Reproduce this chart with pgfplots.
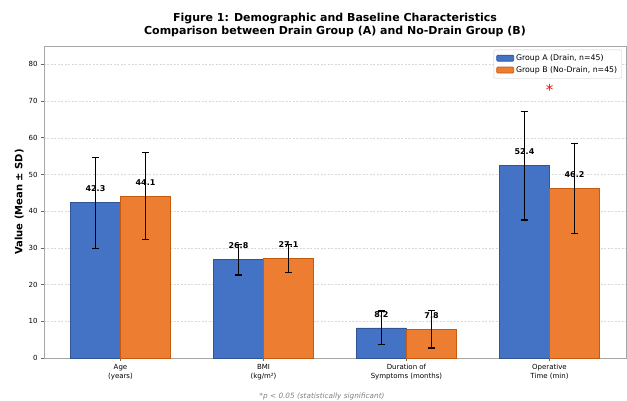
\documentclass[border=0pt]{standalone}
\usepackage{pgfplots}
\pgfplotsset{compat=1.18}
\usepackage{fontspec}
\setmainfont{DejaVu Sans}
\definecolor{grpA}{HTML}{4472C4}
\definecolor{grpAedge}{HTML}{2F5597}
\definecolor{grpB}{HTML}{ED7D31}
\definecolor{grpBedge}{HTML}{C55A11}

% x = category position shifted by half a bar, y = mean, e = SD
\pgfplotstableread{
x y e
-0.175 42.3 12.4
0.825 26.8 4.2
1.825 8.2 4.6
2.825 52.4 14.8
}\groupA
\pgfplotstableread{
x y e
0.175 44.1 11.8
1.175 27.1 3.9
2.175 7.8 5.1
3.175 46.2 12.3
}\groupB

\begin{document}
\begin{tikzpicture}
\path[use as bounding box] (0,0) rectangle (627pt,401pt);
\node[font=\fontsize{11}{13}\selectfont\bfseries, align=center] at (335pt,376pt)
  {Figure 1: Demographic and Baseline Characteristics\\Comparison between Drain Group (A) and No-Drain Group (B)};
\begin{axis}[
  at={(44pt,43pt)}, anchor=south west,
  width=582pt, height=312pt, scale only axis,
  xmin=-0.535, xmax=3.535, ymin=0, ymax=85,
  xtick={0,1,2,3},
  xticklabels={{Age\\(years)},{BMI\\(kg/m²)},{Duration of\\Symptoms (months)},{Operative\\Time (min)}},
  xticklabel style={align=center, font=\fontsize{7}{8.5}\selectfont},
  ytick={0,10,...,80},
  yticklabel style={font=\fontsize{7}{8}\selectfont},
  /pgf/number format/assume math mode=true,
  tick align=outside, tick pos=left,
  major tick length=3pt,
  tick style={gray!80!black, line width=0.6pt},
  axis line style={gray!70, line width=0.8pt},
  ymajorgrids, major grid style={dash pattern=on 2pt off 1.5pt, gray!30, line width=0.45pt},
  ylabel={\bfseries Value (Mean ± SD)},
  ylabel style={font=\fontsize{10}{12}\selectfont, yshift=-2pt},
  ybar=0pt, bar width=0.35, bar shift=0pt,
  legend style={at={(0.993,0.988)}, anchor=north east, draw=gray!40, rounded corners=1pt,
    font=\fontsize{7.8}{9.5}\selectfont, inner sep=2.5pt, row sep=0.5pt},
  legend cell align=left,
  legend image code/.code={\draw[#1] (0pt,-3pt) rectangle (17pt,3pt);},
  nodes near coords={\pgfmathprintnumber[fixed,precision=1,fixed zerofill]{\pgfplotspointmeta}},
  every node near coord/.append style={font=\fontsize{8}{9.5}\selectfont\bfseries, black, anchor=south, yshift=7pt},
  point meta=explicit,
  clip=false,
]
\addplot[fill=grpA, draw=grpAedge, line width=0.7pt,
  error bars/.cd, y dir=both, y explicit,
  error bar style={black, line width=1.2pt},
  error mark options={rotate=90, mark size=3.5pt, black, line width=1.2pt}]
  table[x=x, y=y, y error=e, meta=y] {\groupA};
\addlegendentry{Group A (Drain, n=45)}
\addplot[fill=grpB, draw=grpBedge, line width=0.7pt,
  error bars/.cd, y dir=both, y explicit,
  error bar style={black, line width=1.2pt},
  error mark options={rotate=90, mark size=3.5pt, black, line width=1.2pt}]
  table[x=x, y=y, y error=e, meta=y] {\groupB};
\addlegendentry{Group B (No-Drain, n=45)}
\node[red, font=\fontsize{15}{15}\selectfont] at (axis cs:3,73) {*};
\end{axis}
\node[gray, font=\fontsize{7.3}{9}\selectfont\itshape] at (322pt,5pt) {*p < 0.05 (statistically significant)};
\end{tikzpicture}
\end{document}
